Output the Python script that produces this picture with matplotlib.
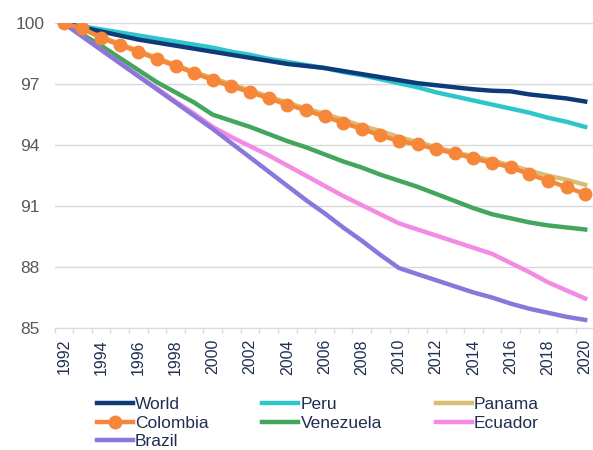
import matplotlib.pyplot as plt
import numpy as np

plt.rcParams["font.family"] = ["Liberation Sans", "DejaVu Sans"]

years = list(range(1992, 2021))

world = [100, 99.8, 99.6, 99.4, 99.2, 99.05, 98.9, 98.75, 98.6, 98.45,
         98.3, 98.15, 98.0, 97.9, 97.8, 97.65, 97.5, 97.35, 97.2, 97.05,
         96.95, 96.85, 96.75, 96.68, 96.65, 96.5, 96.4, 96.3, 96.15]
peru = [100, 99.85, 99.7, 99.55, 99.4, 99.25, 99.1, 98.95, 98.8, 98.6,
        98.45, 98.25, 98.1, 97.95, 97.8, 97.6, 97.45, 97.25, 97.05, 96.85,
        96.6, 96.4, 96.2, 96.0, 95.8, 95.6, 95.35, 95.15, 94.9]
panama = [100, 99.7, 99.35, 99.0, 98.65, 98.3, 97.95, 97.6, 97.3, 97.0,
          96.7, 96.4, 96.1, 95.8, 95.55, 95.25, 94.95, 94.7, 94.4, 94.15,
          93.9, 93.65, 93.45, 93.25, 93.0, 92.75, 92.5, 92.3, 92.05]
colombia = [100, 99.75, 99.29, 98.93, 98.6, 98.24, 97.9, 97.56, 97.2, 96.9,
            96.62, 96.3, 96.0, 95.72, 95.42, 95.1, 94.8, 94.48, 94.2, 94.04,
            93.8, 93.6, 93.35, 93.13, 92.92, 92.56, 92.26, 91.93, 91.6]
venezuela = [100, 99.45, 98.9, 98.3, 97.7, 97.1, 96.6, 96.1, 95.5, 95.2,
             94.9, 94.55, 94.2, 93.9, 93.55, 93.2, 92.9, 92.55, 92.25, 91.95,
             91.6, 91.25, 90.9, 90.6, 90.4, 90.2, 90.05, 89.95, 89.85]
ecuador = [100, 99.35, 98.7, 98.05, 97.4, 96.8, 96.15, 95.55, 94.9, 94.4,
           93.95, 93.5, 93.0, 92.5, 92.0, 91.5, 91.05, 90.6, 90.15, 89.85,
           89.55, 89.25, 88.95, 88.65, 88.2, 87.75, 87.25, 86.85, 86.45]
brazil = [100, 99.35, 98.7, 98.05, 97.4, 96.75, 96.1, 95.45, 94.8, 94.1,
          93.4, 92.7, 92.0, 91.3, 90.65, 89.95, 89.3, 88.6, 87.95, 87.65,
          87.35, 87.05, 86.75, 86.5, 86.2, 85.95, 85.75, 85.55, 85.4]

label_color = "#1f2f50"
grid_color = "#d9d9d9"

fig = plt.figure(figsize=(5.93, 4.5), dpi=100)
ax = fig.add_axes([54.5 / 593, 122 / 450, 540 / 593, 304.7 / 450])

x = np.arange(len(years))
lw = 3.2
h_world, = ax.plot(x, world, color="#0d3b78", lw=lw, label="World", zorder=4)
h_peru, = ax.plot(x, peru, color="#2ec6cc", lw=lw, label="Peru", zorder=3)
h_panama, = ax.plot(x, panama, color="#d8bd72", lw=lw, label="Panama", zorder=3)
h_col, = ax.plot(x, colombia, color="#f6873a", lw=lw, marker="o", ms=9,
                 label="Colombia", zorder=5)
h_ven, = ax.plot(x, venezuela, color="#44a55c", lw=lw, label="Venezuela", zorder=3)
h_ecu, = ax.plot(x, ecuador, color="#f38be4", lw=lw, label="Ecuador", zorder=3)
h_bra, = ax.plot(x, brazil, color="#8b77dc", lw=lw, label="Brazil", zorder=3)

ax.set_xlim(-0.5, len(years) - 0.5)
ax.set_ylim(85, 100)
ax.set_yticks(range(85, 101, 3))
ax.set_xticks(x[::2])
ax.set_xticklabels([str(y) for y in years[::2]], rotation=90)
ax.set_xticks(np.arange(-0.5, len(years), 1), minor=True)

ax.grid(axis="y", color=grid_color, lw=1)
ax.set_axisbelow(True)
for side in ["top", "right", "left"]:
    ax.spines[side].set_visible(False)
ax.spines["bottom"].set_color(grid_color)

ax.tick_params(axis="y", length=0, pad=17.5, labelsize=12.5, labelcolor="#595959")
for lab in ax.get_yticklabels():
    lab.set_horizontalalignment("center")
ax.tick_params(axis="x", which="major", length=0, pad=8, labelsize=11.5,
               labelcolor=label_color)
ax.tick_params(axis="x", which="minor", length=3.5, color=grid_color, width=1)

# row-wise order for a 3-column legend
handles = [h_world, h_col, h_bra, h_peru, h_ven, h_panama, h_ecu]
fig.legend(handles=handles, labels=[h.get_label() for h in handles],
           loc="upper left", bbox_to_anchor=(97 / 593, 1 - 397 / 450),
           ncol=3, frameon=False, fontsize=12.5, labelcolor=label_color,
           handlelength=2.07, handletextpad=0.12, columnspacing=3.1,
           labelspacing=0.2, borderpad=0, borderaxespad=0)

fig.savefig("out.png", dpi=100)
